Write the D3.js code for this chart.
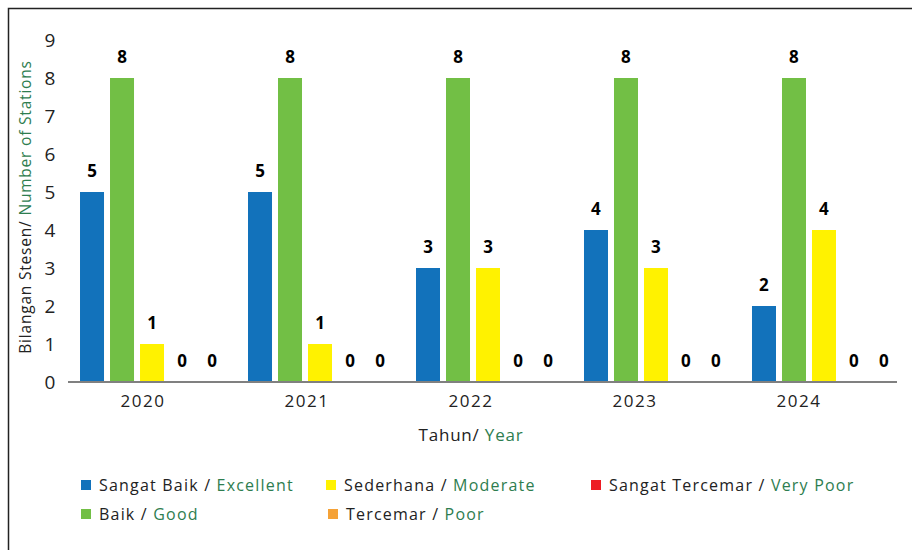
<!DOCTYPE html>
<html>
<head>
<meta charset="utf-8">
<script src="https://cdn.jsdelivr.net/npm/d3@7"></script>
<style>
  body { margin: 0; background: #fff; }
  svg { display: block; font-family: "Open Sans", sans-serif; }
</style>
</head>
<body>
<svg width="912" height="550"></svg>
<script>
// data
const years = ['2020', '2021', '2022', '2023', '2024'];
const sangatBaik = [5, 5, 3, 4, 2];
const baik = [8, 8, 8, 8, 8];
const sederhana = [1, 1, 3, 3, 4];
const tercemar = [0, 0, 0, 0, 0];
const sangatTercemar = [0, 0, 0, 0, 0];
const yTicks = [0, 1, 2, 3, 4, 5, 6, 7, 8, 9];

const series = [
  {key: 'sb', ms: 'Sangat Baik', en: 'Excellent', color: '#1272bb', values: sangatBaik},
  {key: 'b', ms: 'Baik', en: 'Good', color: '#72bf45', values: baik},
  {key: 's', ms: 'Sederhana', en: 'Moderate', color: '#fff200', values: sederhana},
  {key: 'st', ms: 'Sangat Tercemar', en: 'Very Poor', color: '#ed1c24', values: sangatTercemar},
  {key: 't', ms: 'Tercemar', en: 'Poor', color: '#f5a237', values: tercemar}
];

const svg = d3.select('svg');
const green = '#2e7d4f';
const dark = '#222';

// frame
svg.append('path')
  .attr('d', 'M8.5,560 V8.5 H920')
  .attr('fill', 'none')
  .attr('stroke', '#222')
  .attr('stroke-width', 1.5);

const y = d3.scaleLinear().domain([0, 8]).range([382, 78]);

const x0 = d3.scaleBand().domain(years).range([68, 908])
  .paddingInner(24 / 168).paddingOuter(0.0715);
const x1 = d3.scaleBand().domain(series.map(s => s.key))
  .range([0, x0.bandwidth()]).paddingInner(0.2).paddingOuter(0);
// year labels sit on their own pitch in the original
const xLab = d3.scalePoint().domain(years).range([143, 799]);

// y tick labels
svg.append('g')
  .selectAll('text')
  .data(yTicks)
  .join('text')
  .attr('x', 50)
  .attr('y', d => y(d))
  .attr('dy', '0.36em')
  .attr('text-anchor', 'middle')
  .attr('font-size', 19)
  .attr('fill', dark)
  .text(d => d);

// bars
const groups = svg.append('g')
  .selectAll('g')
  .data(years)
  .join('g')
  .attr('transform', d => `translate(${x0(d)},0)`);

groups.selectAll('rect')
  .data((d, i) => series.map(s => ({key: s.key, color: s.color, v: s.values[i]})))
  .join('rect')
  .attr('x', d => x1(d.key))
  .attr('y', d => y(d.v))
  .attr('width', x1.bandwidth())
  .attr('height', d => y(0) - y(d.v))
  .attr('fill', d => d.color);

groups.selectAll('text')
  .data((d, i) => series.map(s => ({key: s.key, v: s.values[i]})))
  .join('text')
  .attr('x', d => x1(d.key) + x1.bandwidth() / 2)
  .attr('y', d => y(d.v) - 21)
  .attr('dy', '0.36em')
  .attr('text-anchor', 'middle')
  .attr('font-size', 17)
  .attr('font-weight', 'bold')
  .attr('fill', '#000')
  .text(d => d.v);

// x axis line
svg.append('line')
  .attr('x1', 68).attr('x2', 897)
  .attr('y1', 382).attr('y2', 382)
  .attr('stroke', '#808080')
  .attr('stroke-width', 2);

svg.append('g')
  .selectAll('text')
  .data(years)
  .join('text')
  .attr('x', d => xLab(d))
  .attr('y', 401)
  .attr('dy', '0.36em')
  .attr('text-anchor', 'middle')
  .attr('font-size', 17)
  .attr('letter-spacing', 1.5)
  .attr('fill', dark)
  .text(d => d);

// axis titles
const xt = svg.append('text')
  .attr('x', 471).attr('y', 435).attr('dy', '0.36em')
  .attr('text-anchor', 'middle')
  .attr('font-size', 17)
  .attr('letter-spacing', 0.8);
xt.append('tspan').attr('fill', dark).text('Tahun/ ');
xt.append('tspan').attr('fill', green).text('Year');

const yt = svg.append('text')
  .attr('transform', 'translate(25,207) rotate(-90)')
  .attr('dy', '0.36em')
  .attr('text-anchor', 'middle')
  .attr('font-size', 15.5)
  .attr('letter-spacing', 0.8);
yt.append('tspan').attr('fill', dark).text('Bilangan Stesen/ ');
yt.append('tspan').attr('fill', green).text('Number of Stations');

// legend
const legendPos = [
  {key: 'sb', x: 81, y: 485},
  {key: 's', x: 326, y: 485},
  {key: 'st', x: 591, y: 485},
  {key: 'b', x: 81, y: 514},
  {key: 't', x: 328, y: 514}
];
const leg = svg.append('g')
  .selectAll('g')
  .data(legendPos)
  .join('g')
  .attr('transform', d => `translate(${d.x},${d.y})`);
leg.append('rect')
  .attr('x', 0).attr('y', -5)
  .attr('width', 10).attr('height', 10)
  .attr('fill', d => series.find(s => s.key === d.key).color);
const lt = leg.append('text')
  .attr('x', 18)
  .attr('dy', '0.36em')
  .attr('font-size', 16)
  .attr('letter-spacing', 1.2);
lt.append('tspan').attr('fill', dark).text(d => series.find(s => s.key === d.key).ms + ' / ');
lt.append('tspan').attr('fill', green).text(d => series.find(s => s.key === d.key).en);
</script>
</body>
</html>
